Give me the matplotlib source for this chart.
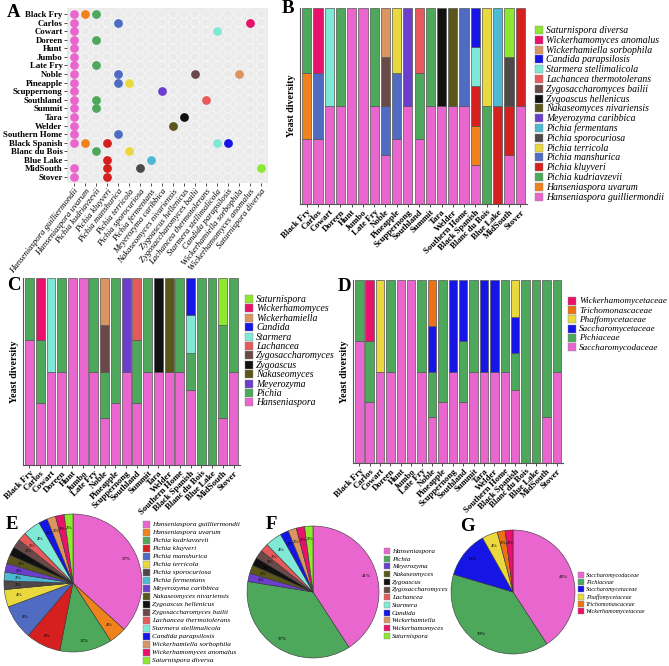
import matplotlib
matplotlib.use('Agg')
import matplotlib.pyplot as plt
from matplotlib.patches import Rectangle
import numpy as np

plt.rcParams['font.family'] = ['Liberation Serif', 'DejaVu Serif']

W, H = 669, 666
fig = plt.figure(figsize=(W / 100, H / 100), dpi=100)


def px_axes(x0, y0, x1, y1):
    return fig.add_axes([x0 / W, 1 - y1 / H, (x1 - x0) / W, (y1 - y0) / H])


# ---------------- data ----------------
varieties = ["Black Fry", "Carlos", "Cowart", "Doreen", "Hunt", "Jumbo", "Late Fry",
             "Noble", "Pineapple", "Scuppernong", "Southland", "Summit", "Tara",
             "Welder", "Southern Home", "Black Spanish", "Blanc du Bois", "Blue Lake",
             "MidSouth", "Stover"]

species = ["Hanseniaspora guilliermondii", "Hanseniaspora uvarum", "Pichia kudriavzevii",
           "Pichia kluyveri", "Pichia manshurica", "Pichia terricola", "Pichia sporocuriosa",
           "Pichia fermentans", "Meyerozyma caribbica", "Nakaseomyces nivariensis",
           "Zygoascus hellenicus", "Zygosaccharomyces bailii", "Lachancea thermotolerans",
           "Starmera stellimalicola", "Candida parapsilosis", "Wickerhamiella sorbophila",
           "Wickerhamomyces anomalus", "Saturnispora diversa"]

species_colors = ["#EA66CF", "#F0821E", "#4DA85C", "#D6201F", "#4F6CC2", "#E9D83E",
                  "#4E4848", "#4DB9D3", "#6B3FCB", "#5B5619", "#111111", "#6B4948",
                  "#E65A5C", "#80E9D6", "#1515E6", "#DB9560", "#E9116B", "#8EE832"]

# species present in each variety (indices into `species`)
presence = [
    [0, 1, 2],          # Black Fry
    [0, 4, 16],         # Carlos
    [0, 13],            # Cowart
    [0, 2],             # Doreen
    [0],                # Hunt
    [0],                # Jumbo
    [0, 2],             # Late Fry
    [0, 4, 11, 15],     # Noble
    [0, 4, 5],          # Pineapple
    [0, 8],             # Scuppernong
    [0, 2, 12],         # Southland
    [0, 2],             # Summit
    [0, 10],            # Tara
    [0, 9],             # Welder
    [0, 4],             # Southern Home
    [0, 1, 3, 13, 14],  # Black Spanish
    [2, 5],             # Blanc du Bois
    [3, 7],             # Blue Lake
    [0, 3, 6, 17],      # MidSouth
    [0, 3],             # Stover
]

genera = ["Hanseniaspora", "Pichia", "Meyerozyma", "Nakaseomyces", "Zygoascus",
          "Zygosaccharomyces", "Lachancea", "Starmera", "Candida", "Wickerhamiella",
          "Wickerhamomyces", "Saturnispora"]
genus_colors = ["#EA66CF", "#4DA85C", "#6B3FCB", "#5B5619", "#111111", "#6B4948",
                "#E65A5C", "#80E9D6", "#1515E6", "#DB9560", "#E9116B", "#8EE832"]
genus_of_species = [0, 0, 1, 1, 1, 1, 1, 1, 2, 3, 4, 5, 6, 7, 8, 9, 10, 11]

families = ["Saccharomycodaceae", "Pichiaceae", "Saccharomycetaceae", "Phaffomycetaceae",
            "Trichomonascaceae", "Wickerhamomycetaceae"]
family_colors = ["#EA66CF", "#4DA85C", "#1515E6", "#E9D83E", "#EC7216", "#E9116B"]
family_of_genus = [0, 1, 2, 2, 2, 2, 2, 3, 2, 4, 5, 1]

# pie percentage labels as printed
pct_species = ["37%", "4%", "12%", "8%", "8%", "4%", "2%", "2%", "2%", "2%", "2%", "2%",
               "2%", "4%", "2%", "2%", "2%", "2%"]
pct_genus = ["41%", "37%", "2%", "2%", "2%", "2%", "2%", "4%", "2%", "2%", "2%", "2%"]
pct_family = ["40%", "39%", "13%", "4%", "2%", "2%"]

# ---------------- derived tables ----------------
nv, ns = len(varieties), len(species)
occ = np.zeros((nv, ns))
for i, lst in enumerate(presence):
    for s in lst:
        occ[i, s] = 1
frac_sp = occ / occ.sum(axis=1, keepdims=True)
frac_gen = np.zeros((nv, len(genera)))
for s in range(ns):
    frac_gen[:, genus_of_species[s]] += frac_sp[:, s]
frac_fam = np.zeros((nv, len(families)))
for g in range(len(genera)):
    frac_fam[:, family_of_genus[g]] += frac_gen[:, g]
count_sp = occ.sum(axis=0)
count_gen = np.zeros(len(genera))
for s in range(ns):
    count_gen[genus_of_species[s]] += count_sp[s]
count_fam = np.zeros(len(families))
for g in range(len(genera)):
    count_fam[family_of_genus[g]] += count_gen[g]


def legend_px(labels, colors, x, y0, dy, size, tx, fs):
    for k, (lab, col) in enumerate(zip(labels, colors)):
        yc = y0 + k * dy
        fig.add_artist(Rectangle((x / W, 1 - (yc + size / 2) / H), size / W, size / H,
                                 transform=fig.transFigure, facecolor=col,
                                 edgecolor='#888888', lw=0.3))
        fig.text(tx / W, 1 - (yc + 0.5) / H, lab, fontsize=fs, style='italic',
                 ha='left', va='center')


# ---------------- panel A ----------------
axA = px_axes(67, 8, 268, 183)
axA.set_facecolor('#EBEBEB')
gx, gy = np.meshgrid(np.arange(ns), np.arange(nv))
axA.scatter(gx.ravel(), gy.ravel(), s=40, facecolor='none', edgecolor='#F7F7F7', lw=0.6, zorder=1)
for i, lst in enumerate(presence):
    for s in lst:
        axA.scatter([s], [i], s=40, color=species_colors[s], lw=0, zorder=2)
axA.set_xlim(-0.64, ns - 1 + 0.64)
axA.set_ylim(nv - 1 + 0.7, -0.7)
axA.set_yticks(range(nv))
axA.set_yticklabels(varieties, fontsize=6.3, fontweight='bold')
axA.set_xticks(range(ns))
axA.set_xticklabels(species, fontsize=6.3, style='italic', rotation=52, ha='right',
                    rotation_mode='anchor')
axA.tick_params(length=2, width=0.6, pad=1.2, color='#333333')
for sp in axA.spines.values():
    sp.set_visible(False)


def stacked(ax, fracs, colors, labels, leg):
    x = np.arange(nv)
    bottom = np.zeros(nv)
    for j in range(fracs.shape[1]):
        v = fracs[:, j]
        m = v > 0
        ax.bar(x[m], v[m], bottom=bottom[m], width=0.82, color=colors[j],
               edgecolor='#555555', lw=0.5)
        bottom += v
    ax.set_xlim(-0.6, nv - 0.4)
    ax.set_ylim(0, 1.0)
    ax.set_yticks([])
    ax.set_xticks(x)
    ax.set_xticklabels(varieties, rotation=45, ha='right', rotation_mode='anchor',
                       fontsize=6.3, fontweight='bold')
    ax.tick_params(axis='x', length=2, width=0.5, pad=1)
    for s in ['top', 'right']:
        ax.spines[s].set_visible(False)
    for s in ['left', 'bottom']:
        ax.spines[s].set_color('#555555')
        ax.spines[s].set_linewidth(0.8)
    ax.set_ylabel('Yeast diversity', fontsize=7.2, fontweight='bold', labelpad=3)
    legend_px(labels[::-1], colors[::-1], *leg)


axB = px_axes(300, 8, 527, 204)
stacked(axB, frac_sp, species_colors, species, (535, 30, 9.8, 8, 546, 7.0))

axC = px_axes(23, 278, 240, 465)
stacked(axC, frac_gen, genus_colors, genera, (245, 299, 9.4, 8, 256, 7.0))

axD = px_axes(353, 280, 563, 463)
stacked(axD, frac_fam, family_colors, families, (568, 301, 9.2, 8, 579, 6.6))


# ---------------- pies ----------------
def pie(cx, cy, r, counts, colors, pcts, labels, leg):
    ax = px_axes(cx - r, cy - r, cx + r, cy + r)
    wedges, _ = ax.pie(counts, colors=colors, startangle=90, counterclock=False,
                       radius=1, wedgeprops=dict(edgecolor='#333333', lw=0.4))
    for w, t in zip(wedges, pcts):
        ang = np.deg2rad((w.theta1 + w.theta2) / 2)
        rr = 0.85 if (w.theta2 - w.theta1) > 20 else 0.8
        ax.text(rr * np.cos(ang), rr * np.sin(ang), t, ha='center', va='center',
                fontsize=3.6)
    ax.set_xlim(-1, 1)
    ax.set_ylim(-1, 1)
    ax.set_aspect('equal')
    ax.axis('off')
    legend_px(labels, colors, *leg)


pie(73, 583, 69, count_sp, species_colors, pct_species, species,
    (143, 524, 8.0, 7, 152, 5.2))
pie(313, 592, 66, count_gen, genus_colors, pct_genus, genera,
    (384, 551, 7.7, 6, 392, 5.0))
pie(513, 592, 62, count_fam, family_colors, pct_family, families,
    (578, 575, 7.2, 6, 586, 4.4))

# ---------------- panel letters ----------------
for letter, x, y in [("A", 7, 4), ("B", 282, 0), ("C", 7, 277), ("D", 338, 278),
                     ("E", 6, 516), ("F", 266, 516), ("G", 460, 518)]:
    fig.text(x / W, 1 - y / H, letter, fontsize=13.5, fontweight='bold',
             ha='left', va='top')

fig.savefig('out.png', dpi=100)
